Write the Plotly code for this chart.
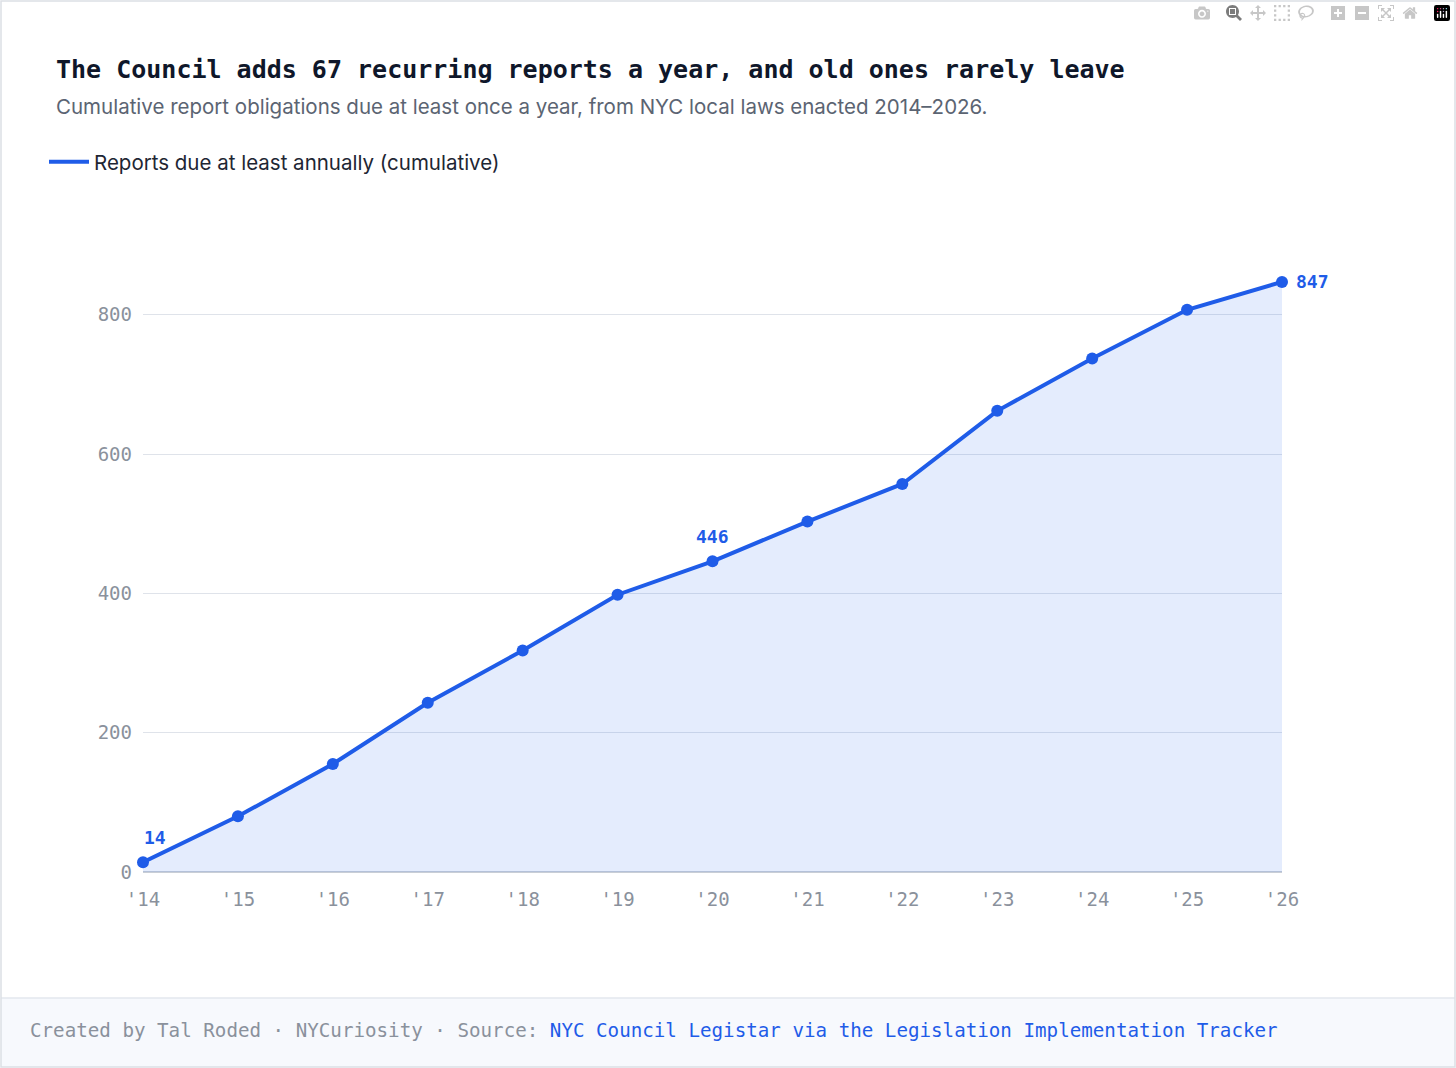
import plotly.graph_objects as go

years = ["'14", "'15", "'16", "'17", "'18", "'19", "'20", "'21", "'22", "'23", "'24", "'25", "'26"]
reports = [14, 80, 155, 243, 318, 398, 446, 503, 557, 662, 737, 807, 847]
labelled = {0: "14", 6: "446", 12: "847"}

W, H = 1456, 1068
L, R, T, B = 143, 174, 245, 196
pw, ph = W - L - R, H - T - B


def px(x):
    return (x - L) / pw


def py(y):
    return (H - B - y) / ph


blue = "#1f5ce8"
mono = "DejaVu Sans Mono"

fig = go.Figure()
fig.add_trace(go.Scatter(
    x=list(range(len(years))), y=reports, mode="lines+markers",
    line=dict(color=blue, width=4), marker=dict(size=12, color=blue),
    fill="tozeroy", fillcolor="rgba(37,99,235,0.12)",
    showlegend=False, cliponaxis=False))
# legend entry: line only
fig.add_trace(go.Scatter(x=[None], y=[None], mode="lines", line=dict(color=blue, width=4),
                         name="Reports due at least annually (cumulative)"))

# value labels
for i, txt in labelled.items():
    if i == 12:
        fig.add_annotation(x=i, y=reports[i], text=f"<b>{txt}</b>", showarrow=False,
                           xanchor="left", xshift=12, font=dict(family=mono, size=18, color=blue))
    else:
        fig.add_annotation(x=i, y=reports[i], text=f"<b>{txt}</b>", showarrow=False,
                           yanchor="bottom", yshift=12, xshift=12 if i == 0 else 0,
                           font=dict(family=mono, size=18, color=blue))

# title block
fig.add_annotation(xref="paper", yref="paper", x=px(54), y=py(69), xanchor="left", yanchor="middle",
                   text="<b>The Council adds 67 recurring reports a year, and old ones rarely leave</b>",
                   showarrow=False, font=dict(family=mono, size=25, color="#0f172a"))
fig.add_annotation(xref="paper", yref="paper", x=px(54), y=py(107), xanchor="left", yanchor="middle",
                   text="Cumulative report obligations due at least once a year, from NYC local laws enacted 2014\u20132026.",
                   showarrow=False, font=dict(family="Inter", size=20.5, color="#5b6472"))

# footer
fig.add_shape(type="rect", xref="paper", yref="paper", x0=px(1), x1=px(W - 1), y0=py(998), y1=py(H - 1),
              fillcolor="#f7f9fd", line=dict(width=0), layer="below")
fig.add_shape(type="line", xref="paper", yref="paper", x0=px(1), x1=px(W - 1), y0=py(998), y1=py(998),
              line=dict(color="#e3e7ee", width=1.5))
fig.add_shape(type="rect", xref="paper", yref="paper", x0=px(1), x1=px(W - 1), y0=py(1), y1=py(H - 1),
              line=dict(color="#dcdfe5", width=1.5))
fig.add_annotation(xref="paper", yref="paper", x=px(28), y=py(1030), xanchor="left", yanchor="middle",
                   text="Created by Tal Roded \u00b7 NYCuriosity \u00b7 Source: "
                        "<span style='color:#1f5ce8'>NYC Council Legistar via the Legislation Implementation Tracker</span>",
                   showarrow=False, font=dict(family=mono, size=19.2, color="#8a919c"))

fig.update_layout(
    width=W, height=H, margin=dict(l=L, r=R, t=T, b=B),
    paper_bgcolor="white", plot_bgcolor="white",
    showlegend=True,
    legend=dict(x=px(44), y=py(162), xanchor="left", yanchor="middle",
                font=dict(family="Inter", size=20.5, color="#1e2633"), itemwidth=40),
    xaxis=dict(tickvals=list(range(len(years))), ticktext=years, range=[0, 12],
               showgrid=False, zeroline=False, showline=False,
               tickfont=dict(family=mono, size=19, color="#8a919c"), ticks="", ticklabelstandoff=14),
    yaxis=dict(range=[0, 900], tickvals=[0, 200, 400, 600, 800], showgrid=True,
               gridcolor="#dfe3ea", gridwidth=1, zeroline=True, zerolinecolor="#c9ced6",
               tickfont=dict(family=mono, size=19, color="#8a919c"), ticks="", ticklabelstandoff=10),
)

# drop the default page margin so the figure sits at the window corner
fig.write_html("out.html", post_script="document.body.style.margin='0';")
